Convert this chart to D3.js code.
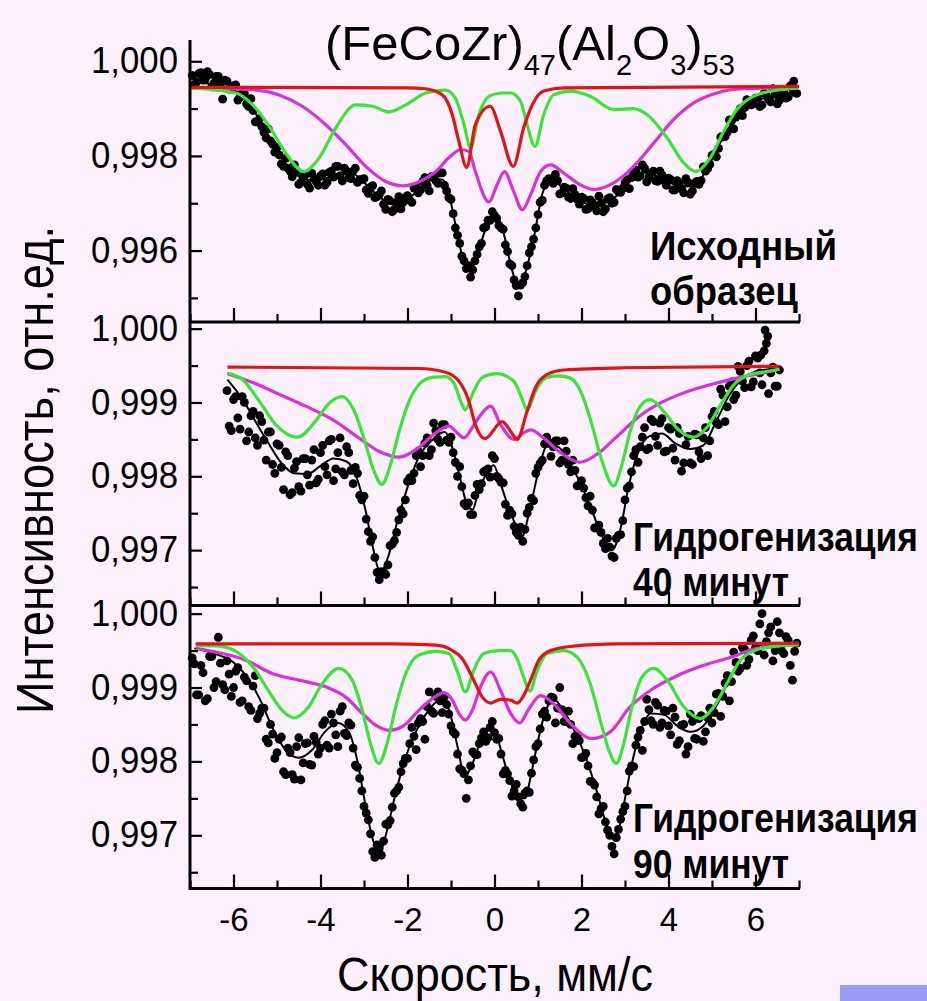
<!DOCTYPE html>
<html>
<head>
<meta charset="utf-8">
<script src="https://cdn.jsdelivr.net/npm/d3@7"></script>
<style>
  body { margin: 0; background: #fdf0fd; }
  svg { display: block; }
  text { font-family: "Liberation Sans", Arial, sans-serif; }
</style>
</head>
<body>
<svg id="chart"></svg>
<script>
"use strict";

// velocity axis, mm/s
const velMajor = [-6, -4, -2, 0, 2, 4, 6];
const velMinor = [-7, -5, -3, -1, 1, 3, 5, 7];

// intensity ticks per panel
const p1Major = [1.000, 0.998, 0.996];
const p1Minor = [0.999, 0.997, 0.995];
const p2Major = [1.000, 0.999, 0.998, 0.997];
const p2Minor = [0.9995, 0.9985, 0.9975, 0.9965];
const p3Major = p2Major;
const p3Minor = p2Minor;

const panelNotes = [["Исходный", "образец"], ["Гидрогенизация", "40 минут"], ["Гидрогенизация", "90 минут"]];

// ---------- panel 1: as prepared ----------
const p1Dots = [[-6.95,0.99970],[-6.85,0.99956],[-6.75,0.99976],[-6.65,0.99962],[-6.55,0.99972],[-6.45,0.99954],[-6.35,0.99968],[-6.25,0.99920],[-6.15,0.99958],[-6.05,0.99942],
  [-5.95,0.99950],[-5.85,0.99924],[-5.75,0.99932],[-5.65,0.99904],[-5.55,0.99896],[-5.45,0.99872],[-5.35,0.99862],[-5.25,0.99838],[-5.15,0.99832],[-5.05,0.99808],
  [-4.95,0.99802],[-4.85,0.99778],[-4.75,0.99774],[-4.65,0.99756],[-4.55,0.99768],[-4.45,0.99744],[-4.35,0.99760],[-4.25,0.99732],[-4.15,0.99752],[-4.05,0.99738],
  [-3.95,0.99762],[-3.85,0.99744],[-3.75,0.99768],[-3.65,0.99778],[-3.55,0.99758],[-3.45,0.99774],[-3.35,0.99754],[-3.25,0.99768],[-3.15,0.99744],[-3.05,0.99750],
  [-2.95,0.99728],[-2.85,0.99734],[-2.75,0.99712],[-2.65,0.99718],[-2.55,0.99698],[-2.45,0.99708],[-2.35,0.99682],[-2.25,0.99702],[-2.15,0.99688],[-2.05,0.99712],
  [-1.95,0.99706],[-1.85,0.99732],[-1.75,0.99722],[-1.65,0.99746],[-1.55,0.99738],[-1.45,0.99756],[-1.35,0.99748],[-1.25,0.99764],[-1.15,0.99738],[-1.05,0.99712],
  [-0.95,0.99678],[-0.85,0.99632],[-0.75,0.99588],[-0.65,0.99562],[-0.55,0.99544],[-0.45,0.99578],[-0.35,0.99608],[-0.25,0.99648],[-0.15,0.99664],[-0.05,0.99682],
  [0.05,0.99668],[0.15,0.99648],[0.25,0.99612],[0.35,0.99572],[0.45,0.99538],[0.55,0.99504],[0.65,0.99532],[0.75,0.99568],[0.85,0.99608],[0.95,0.99648],
  [1.05,0.99702],[1.15,0.99738],[1.25,0.99752],[1.35,0.99742],[1.45,0.99748],[1.55,0.99722],[1.65,0.99732],[1.75,0.99710],[1.85,0.99718],[1.95,0.99698],
  [2.05,0.99710],[2.15,0.99688],[2.25,0.99702],[2.35,0.99684],[2.45,0.99700],[2.55,0.99688],[2.65,0.99712],[2.75,0.99702],[2.85,0.99724],[2.95,0.99732],
  [3.05,0.99750],[3.15,0.99754],[3.25,0.99770],[3.35,0.99758],[3.45,0.99774],[3.55,0.99756],[3.65,0.99768],[3.75,0.99746],[3.85,0.99760],[3.95,0.99738],
  [4.05,0.99750],[4.15,0.99728],[4.25,0.99742],[4.35,0.99722],[4.45,0.99744],[4.55,0.99726],[4.65,0.99746],[4.75,0.99748],[4.85,0.99768],[4.95,0.99782],
  [5.05,0.99804],[5.15,0.99816],[5.25,0.99840],[5.35,0.99850],[5.45,0.99874],[5.55,0.99882],[5.65,0.99900],[5.75,0.99902],[5.85,0.99916],[5.95,0.99910],
  [6.05,0.99922],[6.15,0.99908],[6.25,0.99928],[6.35,0.99914],[6.45,0.99930],[6.55,0.99918],[6.65,0.99936],[6.75,0.99924],[6.85,0.99942],[6.95,0.99932],[6.88,0.99958]];
const p1DotsB = [[-6.9,0.99950],[-6.8,0.99974],[-6.7,0.99960],[-6.6,0.99978],[-6.5,0.99946],[-6.4,0.99968],[-6.3,0.99954],[-6.2,0.99960],[-6.1,0.99941],[-6.0,0.99948],
  [-5.9,0.99918],[-5.8,0.99933],[-5.7,0.99910],[-5.6,0.99921],[-5.5,0.99872],[-5.4,0.99879],[-5.3,0.99850],[-5.2,0.99857],[-5.1,0.99825],[-5.0,0.99818],
  [-4.9,0.99783],[-4.8,0.99795],[-4.7,0.99768],[-4.6,0.99781],[-4.5,0.99740],[-4.4,0.99756],[-4.3,0.99740],[-4.2,0.99763],[-4.1,0.99746],[-4.0,0.99758],
  [-3.9,0.99738],[-3.8,0.99765],[-3.7,0.99755],[-3.6,0.99778],[-3.5,0.99747],[-3.4,0.99768],[-3.3,0.99752],[-3.2,0.99774],[-3.1,0.99750],[-3.0,0.99752],
  [-2.9,0.99721],[-2.8,0.99737],[-2.7,0.99714],[-2.6,0.99726],[-2.5,0.99687],[-2.4,0.99705],[-2.3,0.99687],[-2.2,0.99714],[-2.1,0.99702],[-2.0,0.99716],
  [-1.9,0.99702],[-1.8,0.99734],[-1.7,0.99728],[-1.6,0.99754],[-1.5,0.99726],[-1.4,0.99754],[-1.3,0.99742],[-1.2,0.99764],[-1.1,0.99726],[-1.0,0.99708],
  [-0.9,0.99648],[-0.8,0.99615],[-0.7,0.99578],[-0.6,0.99568],[-0.5,0.99559],[-0.4,0.99592],[-0.3,0.99615],[-0.2,0.99650],[-0.1,0.99664],[0.0,0.99674],
  [0.1,0.99653],[0.2,0.99645],[0.3,0.99598],[0.4,0.99568],[0.5,0.99526],[0.6,0.99527],[0.7,0.99545],[0.8,0.99595],[0.9,0.99624],[1.0,0.99676],
  [1.1,0.99706],[1.2,0.99748],[1.3,0.99746],[1.4,0.99761],[1.5,0.99720],[1.6,0.99734],[1.7,0.99713],[1.8,0.99731],[1.9,0.99708],[2.0,0.99713],
  [2.1,0.99687],[2.2,0.99707],[2.3,0.99694],[2.4,0.99715],[2.5,0.99682],[2.6,0.99709],[2.7,0.99700],[2.8,0.99729],[2.9,0.99723],[3.0,0.99743],
  [3.1,0.99731],[3.2,0.99762],[3.3,0.99755],[3.4,0.99781],[3.5,0.99745],[3.6,0.99764],[3.7,0.99748],[3.8,0.99768],[3.9,0.99747],[4.0,0.99753],
  [4.1,0.99728],[4.2,0.99748],[4.3,0.99731],[4.4,0.99752],[4.5,0.99719],[4.6,0.99742],[4.7,0.99740],[4.8,0.99777],[4.9,0.99773],[5.0,0.99801],
  [5.1,0.99798],[5.2,0.99840],[5.3,0.99841],[5.4,0.99876],[5.5,0.99857],[5.6,0.99889],[5.7,0.99885],[5.8,0.99919],[5.9,0.99908],[6.0,0.99922],
  [6.1,0.99904],[6.2,0.99932],[6.3,0.99920],[6.4,0.99942],[6.5,0.99910],[6.6,0.99934],[6.7,0.99922],[6.8,0.99948],[6.9,0.99934]];
const p1Fit = [[-7,0.99955],[-6.5,0.99952],[-6,0.9994],[-5.6,0.99905],[-5.3,0.9986],[-5,0.9981],[-4.7,0.99772],[-4.4,0.99752],[-4.1,0.99748],[-3.8,0.99755],
  [-3.5,0.99765],[-3.2,0.9976],[-2.9,0.99735],[-2.6,0.9971],[-2.3,0.99697],[-2,0.99708],[-1.7,0.99732],[-1.4,0.9975],[-1.2,0.9975],[-1,0.997],
  [-0.8,0.9961],[-0.62,0.9956],[-0.45,0.99575],[-0.3,0.9962],[-0.1,0.99665],[0.05,0.99672],[0.2,0.9964],[0.4,0.9956],[0.55,0.99522],[0.7,0.9955],
  [0.9,0.99625],[1.1,0.9972],[1.3,0.9975],[1.6,0.9973],[1.9,0.9971],[2.2,0.99697],[2.5,0.997],[2.8,0.99715],[3.1,0.99745],[3.4,0.99765],
  [3.7,0.99758],[4,0.99745],[4.3,0.99735],[4.6,0.99738],[4.9,0.99775],[5.2,0.9983],[5.5,0.99875],[5.8,0.99905],[6.2,0.99922],[6.6,0.9993],[7,0.99938]];
const p1Red = [[-7,0.99945],[-2,0.99944],[-1.6,0.99942],[-1.2,0.99929],[-0.97,0.99887],[-0.82,0.99831],[-0.64,0.99776],[-0.44,0.99866],[-0.1,0.99905],
  [0.14,0.99852],[0.43,0.99778],[0.67,0.99859],[0.87,0.99908],[1.13,0.99937],[1.6,0.99944],[7,0.99947]];
const p1Green = [[-7,0.99944],[-5.95,0.99933],[-5.56,0.99908],[-5.18,0.99863],[-4.8,0.99806],[-4.38,0.99767],[-4.03,0.99796],[-3.65,0.99859],[-3.19,0.99908],
  [-2.81,0.99905],[-2.43,0.99893],[-2.04,0.99908],[-1.58,0.99933],[-1.13,0.99939],[-0.9,0.99922],[-0.7,0.99866],[-0.55,0.99817],[-0.36,0.99887],[-0.13,0.99926],
  [0.15,0.99933],[0.37,0.99933],[0.6,0.99915],[0.75,0.99866],[0.93,0.9982],[1.13,0.99887],[1.36,0.99929],[1.75,0.99937],[2.2,0.99926],[2.74,0.99898],
  [3.2,0.999],[3.51,0.99887],[3.97,0.99838],[4.35,0.99785],[4.62,0.99767],[4.96,0.99796],[5.27,0.99852],[5.57,0.99898],[6.03,0.99929],[6.57,0.9994],[7,0.99944]];
const p1Magenta = [[-7,0.99944],[-5.56,0.9994],[-4.95,0.99929],[-4.42,0.99905],[-3.88,0.99866],[-3.42,0.99824],[-2.96,0.99778],[-2.5,0.99746],[-2.12,0.99737],
  [-1.74,0.99745],[-1.35,0.99767],[-1.05,0.99796],[-0.78,0.99813],[-0.59,0.9981],[-0.44,0.99767],[-0.13,0.99703],[0.06,0.99739],[0.23,0.99767],[0.44,0.99725],
  [0.64,0.99686],[0.83,0.99718],[1.06,0.99767],[1.29,0.99781],[1.59,0.99764],[1.9,0.99743],[2.28,0.99729],[2.74,0.99743],[3.2,0.99778],[3.66,0.99827],
  [4.12,0.99877],[4.58,0.99912],[5.11,0.99933],[5.72,0.99942],[7,0.99944]];

// ---------- panel 2: 40 min hydrogenation ----------
const p2Dots = [[-6.15,0.99916],[-6.05,0.99862],[-5.95,0.99908],[-5.85,0.99864],[-5.75,0.99900],[-5.65,0.99860],[-5.55,0.99888],[-5.45,0.99842],[-5.35,0.99874],[-5.25,0.99822],
  [-5.15,0.99860],[-5.05,0.99804],[-4.95,0.99842],[-4.85,0.99782],[-4.75,0.99828],[-4.65,0.99778],[-4.55,0.99820],[-4.45,0.99780],[-4.35,0.99824],[-4.25,0.99788],
  [-4.15,0.99836],[-4.05,0.99796],[-3.95,0.99842],[-3.85,0.99802],[-3.75,0.99850],[-3.65,0.99810],[-3.55,0.99852],[-3.45,0.99802],[-3.35,0.99832],[-3.25,0.99790],
  [-3.15,0.99804],[-3.05,0.99768],[-2.95,0.99742],[-2.85,0.99712],[-2.75,0.99690],[-2.65,0.99660],[-2.55,0.99670],[-2.45,0.99680],[-2.35,0.99708],[-2.25,0.99724],
  [-2.15,0.99754],[-2.05,0.99768],[-1.95,0.99798],[-1.85,0.99804],[-1.75,0.99834],[-1.65,0.99828],[-1.55,0.99852],[-1.45,0.99836],[-1.35,0.99862],[-1.25,0.99846],
  [-1.15,0.99870],[-1.05,0.99846],[-0.95,0.99832],[-0.85,0.99800],[-0.75,0.99786],[-0.65,0.99760],[-0.55,0.99748],[-0.45,0.99774],[-0.35,0.99782],[-0.25,0.99806],
  [-0.15,0.99810],[-0.05,0.99828],[0.05,0.99800],[0.15,0.99792],[0.25,0.99762],[0.35,0.99754],[0.45,0.99732],[0.55,0.99720],[0.65,0.99712],[0.75,0.99750],
  [0.85,0.99770],[0.95,0.99804],[1.05,0.99818],[1.15,0.99844],[1.25,0.99846],[1.35,0.99840],[1.45,0.99848],[1.55,0.99822],[1.65,0.99834],[1.75,0.99806],
  [1.85,0.99808],[1.95,0.99788],[2.05,0.99784],[2.15,0.99760],[2.25,0.99754],[2.35,0.99730],[2.45,0.99724],[2.55,0.99702],[2.65,0.99704],[2.75,0.99690],
  [2.85,0.99720],[2.95,0.99740],[3.05,0.99784],[3.15,0.99806],[3.25,0.99836],[3.35,0.99840],[3.45,0.99866],[3.55,0.99838],[3.65,0.99874],[3.75,0.99842],
  [3.85,0.99878],[3.95,0.99834],[4.05,0.99864],[4.15,0.99822],[4.25,0.99858],[4.35,0.99818],[4.45,0.99854],[4.55,0.99816],[4.65,0.99856],[4.75,0.99824],
  [4.85,0.99866],[4.95,0.99848],[5.05,0.99888],[5.15,0.99870],[5.25,0.99910],[5.35,0.99894],[5.45,0.99928],[5.55,0.99910],[5.65,0.99942],[5.75,0.99920],
  [5.85,0.99956],[5.95,0.99928],[6.05,0.99960],[6.15,0.99924],[6.25,0.99980],[6.35,0.99940],[6.45,0.99922],[6.55,0.99944],[6.22,0.99998],[6.28,0.99990],[6.12,0.99964]];
const p2DotsB = [[-6.1,0.99868],[-6.0,0.99904],[-5.9,0.99879],[-5.8,0.99908],[-5.7,0.99848],[-5.6,0.99882],[-5.5,0.99852],[-5.4,0.99882],[-5.3,0.99849],[-5.2,0.99860],
  [-5.1,0.99816],[-5.0,0.99844],[-4.9,0.99812],[-4.8,0.99833],[-4.7,0.99775],[-4.6,0.99811],[-4.5,0.99786],[-4.4,0.99824],[-4.3,0.99802],[-4.2,0.99822],
  [-4.1,0.99791],[-4.0,0.99832],[-3.9,0.99813],[-3.8,0.99848],[-3.7,0.99794],[-3.6,0.99832],[-3.5,0.99806],[-3.4,0.99840],[-3.3,0.99808],[-3.2,0.99812],
  [-3.1,0.99774],[-3.0,0.99773],[-2.9,0.99725],[-2.8,0.99718],[-2.7,0.99670],[-2.6,0.99671],[-2.5,0.99667],[-2.4,0.99706],[-2.3,0.99713],[-2.2,0.99741],
  [-2.1,0.99749],[-2.0,0.99793],[-1.9,0.99794],[-1.8,0.99828],[-1.7,0.99813],[-1.6,0.99845],[-1.5,0.99828],[-1.4,0.99872],[-1.3,0.99850],[-1.2,0.99870],
  [-1.1,0.99849],[-1.0,0.99853],[-0.9,0.99819],[-0.8,0.99813],[-0.7,0.99763],[-0.6,0.99764],[-0.5,0.99748],[-0.4,0.99789],[-0.3,0.99790],[-0.2,0.99808],
  [-0.1,0.99799],[0.0,0.99824],[0.1,0.99797],[0.2,0.99791],[0.3,0.99747],[0.4,0.99749],[0.5,0.99724],[0.6,0.99731],[0.7,0.99728],[0.8,0.99758],
  [0.9,0.99767],[1.0,0.99812],[1.1,0.99822],[1.2,0.99853],[1.3,0.99827],[1.4,0.99848],[1.5,0.99818],[1.6,0.99848],[1.7,0.99816],[1.8,0.99822],
  [1.9,0.99787],[2.0,0.99794],[2.1,0.99771],[2.2,0.99773],[2.3,0.99730],[2.4,0.99734],[2.5,0.99709],[2.6,0.99716],[2.7,0.99692],[2.8,0.99716],
  [2.9,0.99721],[3.0,0.99768],[3.1,0.99787],[3.2,0.99828],[3.3,0.99819],[3.4,0.99853],[3.5,0.99836],[3.6,0.99877],[3.7,0.99854],[3.8,0.99872],
  [3.9,0.99833],[4.0,0.99866],[4.1,0.99838],[4.2,0.99866],[4.3,0.99807],[4.4,0.99843],[4.5,0.99818],[4.6,0.99857],[4.7,0.99833],[4.8,0.99852],
  [4.9,0.99828],[5.0,0.99881],[5.1,0.99873],[5.2,0.99918],[5.3,0.99874],[5.4,0.99922],[5.5,0.99904],[5.6,0.99949],[5.7,0.99929],[5.8,0.99950],
  [5.9,0.99921],[6.0,0.99963],[6.1,0.99940],[6.2,0.99970],[6.3,0.99912],[6.4,0.99948],[6.5,0.99922]];
const p2Fit = [[-6.14,0.99931],[-5.8,0.99905],[-5.5,0.99875],[-5.2,0.99845],[-4.9,0.99818],[-4.6,0.99804],[-4.3,0.99803],[-4,0.99814],[-3.7,0.99824],[-3.4,0.9982],
  [-3.15,0.99795],[-2.95,0.9975],[-2.8,0.99705],[-2.62,0.9967],[-2.45,0.9969],[-2.25,0.99735],[-2,0.99785],[-1.75,0.99825],[-1.45,0.99848],[-1.15,0.9986],
  [-0.95,0.99835],[-0.8,0.998],[-0.62,0.9976],[-0.5,0.99755],[-0.38,0.99778],[-0.2,0.99802],[-0.02,0.99815],[0.15,0.99788],[0.3,0.99762],[0.48,0.99735],
  [0.63,0.99718],[0.8,0.99752],[1,0.99804],[1.2,0.9984],[1.45,0.9984],[1.7,0.9982],[1.95,0.99794],[2.2,0.9976],[2.45,0.99722],[2.7,0.997],
  [2.9,0.9973],[3.08,0.99785],[3.3,0.99832],[3.55,0.99854],[3.85,0.99858],[4.15,0.99845],[4.5,0.99837],[4.8,0.99842],[5.1,0.99875],[5.4,0.9991],
  [5.7,0.99932],[6,0.99942],[6.3,0.99945],[6.55,0.99947]];
const p2Red = [[-6.14,0.99948],[-1.74,0.99946],[-1.13,0.99941],[-0.82,0.99929],[-0.59,0.99902],[-0.44,0.9987],[-0.22,0.99851],[0.18,0.99874],[0.37,0.99861],
  [0.52,0.9985],[0.75,0.99888],[0.94,0.9992],[1.21,0.99938],[1.59,0.99944],[2.97,0.99947],[6.55,0.99949]];
const p2Green = [[-6.14,0.9994],[-5.79,0.99931],[-5.41,0.99902],[-5.03,0.9987],[-4.53,0.99853],[-4.11,0.99875],[-3.8,0.99899],[-3.51,0.99908],[-3.19,0.99884],
  [-2.96,0.99843],[-2.77,0.99807],[-2.59,0.99789],[-2.39,0.99816],[-2.19,0.99861],[-1.96,0.99902],[-1.74,0.99924],[-1.43,0.99934],[-1.13,0.99935],[-0.93,0.99926],
  [-0.78,0.99902],[-0.67,0.9989],[-0.51,0.99911],[-0.28,0.99934],[0.05,0.99939],[0.44,0.99929],[0.64,0.99904],[0.75,0.9989],[0.94,0.99915],[1.17,0.99933],
  [1.44,0.99936],[1.75,0.99933],[2.01,0.99911],[2.24,0.9987],[2.47,0.99821],[2.74,0.99787],[2.93,0.99816],[3.12,0.99861],[3.35,0.99895],[3.58,0.99904],
  [3.89,0.99888],[4.23,0.99863],[4.58,0.99853],[4.88,0.99866],[5.19,0.99896],[5.5,0.99924],[5.88,0.99938],[6.26,0.99942],[6.55,0.99945]];
const p2Magenta = [[-6.14,0.99939],[-5.56,0.99927],[-4.95,0.99911],[-4.34,0.99895],[-3.73,0.99877],[-3.12,0.99852],[-2.66,0.99834],[-2.19,0.99826],[-1.74,0.99839],
  [-1.35,0.99859],[-1.05,0.99868],[-0.86,0.99859],[-0.7,0.99852],[-0.51,0.99866],[-0.28,0.99886],[-0.09,0.99895],[0.14,0.9987],[0.44,0.9985],[0.67,0.99859],
  [0.83,0.99863],[1.13,0.99852],[1.52,0.99832],[1.97,0.99819],[2.36,0.9983],[2.82,0.99854],[3.28,0.99879],[3.74,0.99897],[4.35,0.99913],[4.96,0.99924],
  [5.57,0.99933],[6.18,0.9994],[6.55,0.99945]];

// ---------- panel 3: 90 min hydrogenation ----------
const p3Dots = [[-6.95,0.99940],[-6.85,0.99890],[-6.75,0.99930],[-6.65,0.99882],[-6.55,0.99942],[-6.45,0.99900],[-6.35,0.99968],[-6.25,0.99904],[-6.15,0.99936],[-6.05,0.99888],
  [-5.95,0.99922],[-5.85,0.99880],[-5.75,0.99914],[-5.65,0.99874],[-5.55,0.99902],[-5.45,0.99858],[-5.35,0.99872],[-5.25,0.99830],[-5.15,0.99850],[-5.05,0.99804],
  [-4.95,0.99830],[-4.85,0.99786],[-4.75,0.99818],[-4.65,0.99782],[-4.55,0.99820],[-4.45,0.99775],[-4.35,0.99824],[-4.25,0.99796],[-4.15,0.99834],[-4.05,0.99810],
  [-3.95,0.99850],[-3.85,0.99822],[-3.75,0.99864],[-3.65,0.99836],[-3.55,0.99868],[-3.45,0.99838],[-3.35,0.99852],[-3.25,0.99818],[-3.15,0.99792],[-3.05,0.99760],
  [-2.95,0.99730],[-2.85,0.99702],[-2.75,0.99670],[-2.65,0.99682],[-2.55,0.99692],[-2.45,0.99714],[-2.35,0.99738],[-2.25,0.99760],[-2.15,0.99786],[-2.05,0.99804],
  [-1.95,0.99824],[-1.85,0.99834],[-1.75,0.99852],[-1.65,0.99854],[-1.55,0.99874],[-1.45,0.99868],[-1.35,0.99888],[-1.25,0.99882],[-1.15,0.99888],[-1.05,0.99864],
  [-0.95,0.99840],[-0.85,0.99810],[-0.75,0.99788],[-0.65,0.99750],[-0.55,0.99794],[-0.45,0.99810],[-0.35,0.99824],[-0.25,0.99840],[-0.15,0.99832],[-0.05,0.99854],
  [0.05,0.99830],[0.15,0.99810],[0.25,0.99788],[0.35,0.99774],[0.45,0.99760],[0.55,0.99752],[0.65,0.99738],[0.75,0.99760],[0.85,0.99784],[0.95,0.99820],
  [1.05,0.99844],[1.15,0.99868],[1.25,0.99882],[1.35,0.99886],[1.45,0.99872],[1.55,0.99870],[1.65,0.99854],[1.75,0.99850],[1.85,0.99834],[1.95,0.99828],
  [2.05,0.99806],[2.15,0.99794],[2.25,0.99772],[2.35,0.99752],[2.45,0.99736],[2.55,0.99718],[2.65,0.99700],[2.75,0.99675],[2.85,0.99708],[2.95,0.99732],
  [3.05,0.99760],[3.15,0.99794],[3.25,0.99822],[3.35,0.99842],[3.45,0.99854],[3.55,0.99870],[3.65,0.99850],[3.75,0.99876],[3.85,0.99852],[3.95,0.99868],
  [4.05,0.99836],[4.15,0.99860],[4.25,0.99828],[4.35,0.99850],[4.45,0.99820],[4.55,0.99854],[4.65,0.99830],[4.75,0.99862],[4.85,0.99840],[4.95,0.99872],
  [5.05,0.99866],[5.15,0.99892],[5.25,0.99888],[5.35,0.99916],[5.45,0.99908],[5.55,0.99934],[5.65,0.99926],[5.75,0.99952],[5.85,0.99938],[5.95,0.99970],
  [6.05,0.99950],[6.15,1.00000],[6.25,0.99962],[6.35,0.99982],[6.45,0.99950],[6.55,0.99974],[6.65,0.99946],[6.75,0.99964],[6.85,0.99910],[6.95,0.99960]];
const p3DotsB = [[-6.9,0.99932],[-6.8,0.99890],[-6.7,0.99920],[-6.6,0.99885],[-6.5,0.99942],[-6.4,0.99908],[-6.3,0.99933],[-6.2,0.99897],[-6.1,0.99918],[-6.0,0.99900],
  [-5.9,0.99927],[-5.8,0.99882],[-5.7,0.99909],[-5.6,0.99869],[-5.5,0.99916],[-5.4,0.99865],[-5.3,0.99872],[-5.2,0.99825],[-5.1,0.99837],[-5.0,0.99812],
  [-4.9,0.99833],[-4.8,0.99782],[-4.7,0.99812],[-4.6,0.99776],[-4.5,0.99832],[-4.4,0.99798],[-4.3,0.99825],[-4.2,0.99795],[-4.1,0.99826],[-4.0,0.99818],
  [-3.9,0.99855],[-3.8,0.99818],[-3.7,0.99852],[-3.6,0.99820],[-3.5,0.99874],[-3.4,0.99835],[-3.3,0.99849],[-3.2,0.99795],[-3.1,0.99777],[-3.0,0.99739],
  [-2.9,0.99721],[-2.8,0.99678],[-2.7,0.99687],[-2.6,0.99673],[-2.5,0.99715],[-2.4,0.99720],[-2.3,0.99757],[-2.2,0.99765],[-2.1,0.99797],[-2.0,0.99804],
  [-1.9,0.99846],[-1.8,0.99816],[-1.7,0.99858],[-1.6,0.99830],[-1.5,0.99894],[-1.4,0.99865],[-1.3,0.99894],[-1.2,0.99866],[-1.1,0.99877],[-1.0,0.99848],
  [-0.9,0.99837],[-0.8,0.99790],[-0.7,0.99783],[-0.6,0.99775],[-0.5,0.99813],[-0.4,0.99809],[-0.3,0.99832],[-0.2,0.99827],[-0.1,0.99846],[0.0,0.99839],
  [0.1,0.99831],[0.2,0.99783],[0.3,0.99783],[0.4,0.99753],[0.5,0.99769],[0.6,0.99743],[0.7,0.99757],[0.8,0.99758],[0.9,0.99802],[1.0,0.99824],
  [1.1,0.99864],[1.2,0.99860],[1.3,0.99887],[1.4,0.99852],[1.5,0.99900],[1.6,0.99854],[1.7,0.99868],[1.8,0.99824],[1.9,0.99834],[2.0,0.99805],
  [2.1,0.99811],[2.2,0.99773],[2.3,0.99768],[2.4,0.99729],[2.5,0.99739],[2.6,0.99707],[2.7,0.99685],[2.8,0.99697],[2.9,0.99722],[3.0,0.99739],
  [3.1,0.99787],[3.2,0.99793],[3.3,0.99833],[3.4,0.99815],[3.5,0.99884],[3.6,0.99855],[3.7,0.99880],[3.8,0.99846],[3.9,0.99869],[4.0,0.99848],
  [4.1,0.99872],[4.2,0.99823],[4.3,0.99849],[4.4,0.99810],[4.5,0.99864],[4.6,0.99831],[4.7,0.99858],[4.8,0.99827],[4.9,0.99859],[5.0,0.99852],
  [5.1,0.99891],[5.2,0.99861],[5.3,0.99906],[5.4,0.99882],[5.5,0.99948],[5.6,0.99922],[5.7,0.99954],[5.8,0.99930],[5.9,0.99964],[6.0,0.99954],
  [6.1,0.99986],[6.2,0.99944],[6.3,0.99974],[6.4,0.99936],[6.5,0.99989],[6.6,0.99950],[6.7,0.99969],[6.8,0.99930],[6.9,0.99949]];
const p3Fit = [[-6.9,0.99953],[-6.4,0.99945],[-6,0.99934],[-5.7,0.99915],[-5.4,0.99885],[-5.1,0.99845],[-4.8,0.99815],[-4.5,0.99805],[-4.2,0.99815],[-3.9,0.9984],
  [-3.6,0.99852],[-3.35,0.9984],[-3.15,0.998],[-2.98,0.99745],[-2.8,0.99695],[-2.65,0.99675],[-2.5,0.997],[-2.3,0.9975],[-2.1,0.99795],[-1.85,0.99835],
  [-1.6,0.99862],[-1.35,0.9988],[-1.18,0.99885],[-1,0.9986],[-0.85,0.9982],[-0.68,0.9978],[-0.52,0.99795],[-0.35,0.99822],[-0.15,0.99842],[0,0.99842],
  [0.15,0.99815],[0.35,0.99775],[0.55,0.9975],[0.7,0.9975],[0.85,0.99785],[1,0.99828],[1.2,0.99872],[1.38,0.99883],[1.6,0.99867],[1.85,0.9984],
  [2.1,0.99805],[2.35,0.9976],[2.6,0.9971],[2.78,0.99692],[2.95,0.99735],[3.15,0.99795],[3.35,0.9984],[3.6,0.99865],[3.9,0.99863],[4.2,0.99848],
  [4.5,0.9984],[4.8,0.99848],[5.1,0.99875],[5.4,0.9991],[5.7,0.9994],[6,0.99955],[6.4,0.9996],[7,0.9996]];
const p3Red = [[-6.87,0.99959],[-2.35,0.99959],[-1.58,0.99958],[-1.2,0.99956],[-0.97,0.9995],[-0.74,0.99939],[-0.51,0.99914],[-0.28,0.99887],[-0.09,0.99879],
  [0.14,0.99884],[0.37,0.99883],[0.52,0.99879],[0.67,0.99889],[0.83,0.9991],[1.02,0.99937],[1.29,0.9995],[1.82,0.99956],[2.82,0.99959],[7,0.9996]];
const p3Green = [[-6.87,0.99957],[-6.33,0.99956],[-5.87,0.99946],[-5.49,0.99923],[-5.18,0.99894],[-4.88,0.99869],[-4.61,0.99859],[-4.27,0.99874],[-3.96,0.99905],
  [-3.58,0.99926],[-3.27,0.9991],[-3.04,0.99869],[-2.85,0.99824],[-2.66,0.99797],[-2.47,0.99824],[-2.27,0.99874],[-2.04,0.99919],[-1.74,0.99944],[-1.35,0.99949],
  [-1.05,0.99946],[-0.86,0.99923],[-0.67,0.99894],[-0.48,0.99923],[-0.25,0.99946],[0.1,0.9995],[0.37,0.9995],[0.52,0.99939],[0.67,0.99914],[0.81,0.99895],
  [0.98,0.99923],[1.21,0.99946],[1.59,0.9995],[1.9,0.99941],[2.2,0.99905],[2.43,0.99856],[2.63,0.99815],[2.8,0.99797],[2.97,0.99824],[3.16,0.99874],
  [3.39,0.99914],[3.66,0.99926],[3.97,0.9991],[4.35,0.99874],[4.73,0.99858],[5.04,0.99874],[5.34,0.99905],[5.65,0.99937],[6.03,0.99951],[6.49,0.99956],[7,0.99958]];
const p3Magenta = [[-6.87,0.99953],[-6.33,0.99947],[-5.72,0.99937],[-5.11,0.99919],[-4.5,0.9991],[-3.88,0.99901],[-3.42,0.99887],[-3.04,0.99865],[-2.73,0.99849],
  [-2.43,0.99842],[-2.12,0.99847],[-1.74,0.99869],[-1.43,0.99885],[-1.16,0.99893],[-0.97,0.99883],[-0.82,0.99865],[-0.67,0.99856],[-0.51,0.99869],[-0.32,0.99901],
  [-0.09,0.99921],[0.14,0.99896],[0.37,0.99865],[0.58,0.99852],[0.79,0.99871],[1.06,0.99889],[1.36,0.99878],[1.75,0.99851],[2.24,0.99831],[2.66,0.9984],
  [3.12,0.99874],[3.58,0.99896],[4.2,0.99916],[4.81,0.9993],[5.43,0.99941],[6.03,0.99953],[7,0.99958]];

// ---------- layout ----------
const width = 927, height = 1001;
const plotLeft = 190, plotRight = 799, plotTop = 40;

const panels = [
  { top: 40, bottom: 322, domain: [0.99449, 1.00045], major: p1Major, minor: p1Minor,
    dots: p1Dots.concat(p1DotsB), fit: p1Fit, red: p1Red, green: p1Green, magenta: p1Magenta,
    note: panelNotes[0], noteX: 650, noteY: [260, 305], noteW: [187, 148] },
  { top: 322, bottom: 605.5, domain: [0.99625, 1.00009], major: p2Major, minor: p2Minor,
    dots: p2Dots.concat(p2DotsB), fit: p2Fit, red: p2Red, green: p2Green, magenta: p2Magenta,
    note: panelNotes[1], noteX: 633, noteY: [551, 596], noteW: [285, 156] },
  { top: 605.5, bottom: 888.5, domain: [0.99628, 1.00011], major: p3Major, minor: p3Minor,
    dots: p3Dots.concat(p3DotsB), fit: p3Fit, red: p3Red, green: p3Green, magenta: p3Magenta,
    note: panelNotes[2], noteX: 633, noteY: [832, 878], noteW: [285, 156] }
];

const colors = { red: "#dc1616", green: "#3ce43a", magenta: "#d533d5", ink: "#000" };
const fmtY = d => d3.format(".3f")(d).replace(".", ",");

const svg = d3.select("#chart")
    .attr("width", width)
    .attr("height", height)
    .attr("viewBox", [0, 0, width, height]);

svg.append("rect").attr("width", width).attr("height", height).attr("fill", "#fdf0fd");

const x = d3.scaleLinear().domain([-7, 7]).range([plotLeft, plotRight]);

panels.forEach((p, i) => {
    const y = d3.scaleLinear().domain(p.domain).range([p.bottom, p.top]);
    const g = svg.append("g");

    const line = d3.line()
        .x(d => x(d[0]))
        .y(d => y(d[1]))
        .curve(d3.curveMonotoneX);

    // measured points
    g.append("g")
        .attr("fill", colors.ink)
        .selectAll("circle")
        .data(p.dots)
        .join("circle")
        .attr("cx", d => x(d[0]))
        .attr("cy", d => y(d[1]))
        .attr("r", 4.4);

    // fitted envelope and subspectra
    g.append("path").attr("fill", "none").attr("stroke", colors.ink).attr("stroke-width", 2)
        .attr("d", line(p.fit));
    [["magenta", p.magenta], ["green", p.green], ["red", p.red]].forEach(([c, data]) => {
        g.append("path")
            .attr("fill", "none")
            .attr("stroke", colors[c])
            .attr("stroke-width", 3.2)
            .attr("stroke-linejoin", "round")
            .attr("d", line(data));
    });

    // y axis: minor then major (ticks pointing inward)
    g.append("g")
        .attr("transform", `translate(${plotLeft},0)`)
        .call(d3.axisLeft(y).tickValues(p.minor).tickSize(-8).tickFormat(""))
        .call(a => a.select(".domain").remove())
        .call(a => a.selectAll("line").attr("stroke-width", 2.2));
    g.append("g")
        .attr("transform", `translate(${plotLeft},0)`)
        .call(d3.axisLeft(y).tickValues(p.major).tickSize(-12).tickPadding(12).tickFormat(fmtY))
        .call(a => a.select(".domain").remove())
        .call(a => a.selectAll("line").attr("stroke-width", 2.2))
        .call(a => a.selectAll("text")
            .attr("font-size", 36)
            .attr("font-family", "'Liberation Sans', Arial, sans-serif")
            .attr("textLength", 87)
            .attr("lengthAdjust", "spacingAndGlyphs")
            .attr("fill", "#000"));

    // x axis of this panel
    g.append("g")
        .attr("transform", `translate(0,${p.bottom})`)
        .call(d3.axisBottom(x).tickValues(velMinor).tickSize(-8).tickFormat(""))
        .call(a => a.select(".domain").remove())
        .call(a => a.selectAll("line").attr("stroke-width", 2.2));
    g.append("g")
        .attr("transform", `translate(0,${p.bottom})`)
        .call(d3.axisBottom(x).tickValues(velMajor).tickSize(-14).tickPadding(19)
            .tickFormat(i === panels.length - 1 ? (d => String(d)) : ""))
        .call(a => a.select(".domain").remove())
        .call(a => a.selectAll("line").attr("stroke-width", 2.2))
        .call(a => a.selectAll("text")
            .attr("font-size", 33)
            .attr("font-family", "'Liberation Sans', Arial, sans-serif")
            .attr("fill", "#000"));

    g.append("line")
        .attr("x1", plotLeft - 1).attr("x2", plotRight + 1)
        .attr("y1", p.bottom).attr("y2", p.bottom)
        .attr("stroke", "#000").attr("stroke-width", 3);

    // sample label: condensed bold, stretched vertically
    p.note.forEach((t, k) => {
        g.append("text")
            .attr("transform", `translate(${p.noteX},${p.noteY[k]}) scale(1,1.15)`)
            .attr("font-size", 35)
            .attr("font-weight", "bold")
            .attr("textLength", p.noteW[k])
            .attr("lengthAdjust", "spacingAndGlyphs")
            .text(t);
    });
});

// vertical axis line shared by all panels
svg.append("line")
    .attr("x1", plotLeft).attr("x2", plotLeft)
    .attr("y1", plotTop).attr("y2", panels[2].bottom + 1)
    .attr("stroke", "#000").attr("stroke-width", 3);

// title with subscripts
const title = svg.append("text")
    .attr("x", 325)
    .attr("y", 60)
    .attr("font-size", 49);
title.append("tspan").text("(FeCoZr)");
title.append("tspan").attr("font-size", 29).attr("dy", 15).text("47");
title.append("tspan").attr("dy", -15).text("(Al");
title.append("tspan").attr("font-size", 29).attr("dy", 15).text("2");
title.append("tspan").attr("dy", -15).text("O");
title.append("tspan").attr("font-size", 29).attr("dy", 15).text("3");
title.append("tspan").attr("dy", -15).text(")");
title.append("tspan").attr("font-size", 29).attr("dy", 15).text("53");

// axis titles (narrow, tall lettering as in the original)
svg.append("text")
    .attr("transform", "translate(53,470) rotate(-90)")
    .attr("text-anchor", "middle")
    .attr("font-size", 51)
    .attr("textLength", 488)
    .attr("lengthAdjust", "spacingAndGlyphs")
    .text("Интенсивность, отн.ед.");

svg.append("text")
    .attr("x", 495)
    .attr("y", 991)
    .attr("text-anchor", "middle")
    .attr("font-size", 48)
    .attr("textLength", 316)
    .attr("lengthAdjust", "spacingAndGlyphs")
    .text("Скорость, мм/с");

// corner swatch
svg.append("rect")
    .attr("x", 840).attr("y", 985)
    .attr("width", 87).attr("height", 16)
    .attr("fill", "#9b9cf6");
</script>
</body>
</html>
